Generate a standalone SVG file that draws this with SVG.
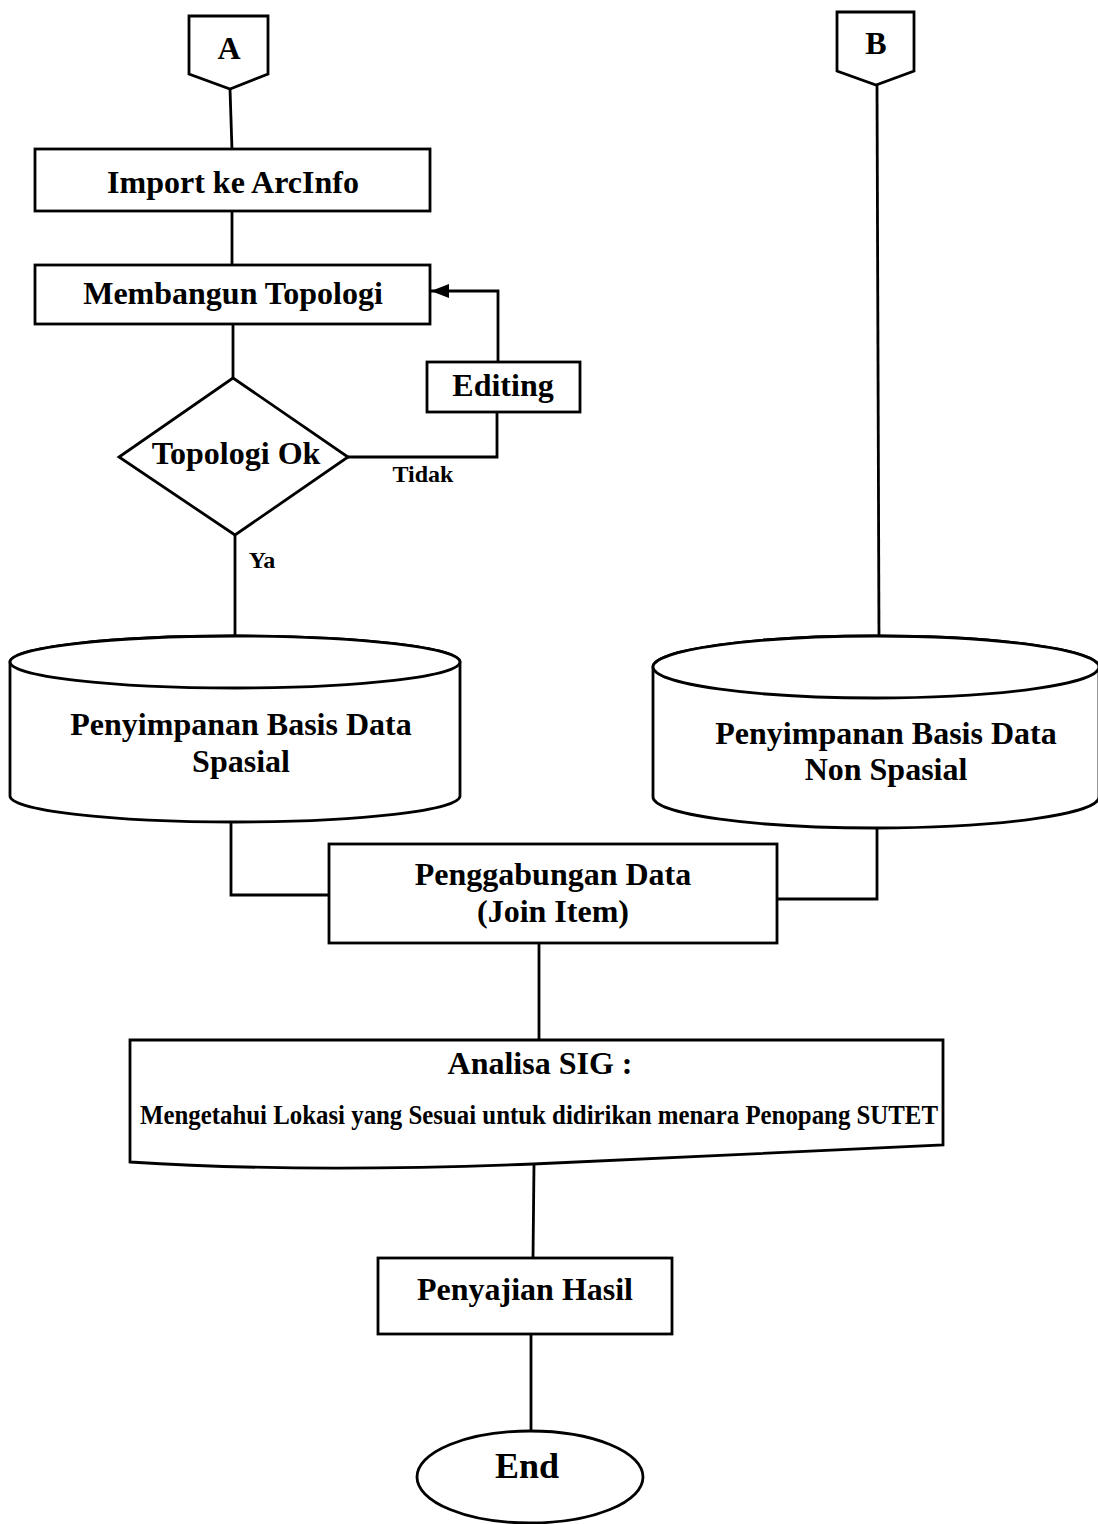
<svg xmlns="http://www.w3.org/2000/svg" width="1098" height="1524" viewBox="0 0 1098 1524">
<style>
.s{fill:#fff;stroke:#000;stroke-width:2.8;stroke-linejoin:miter}
.c{fill:none;stroke:#000;stroke-width:2.8}
.t{font-family:"Liberation Serif","Times New Roman",serif;font-weight:bold;fill:#000;text-anchor:middle}
.l{font-size:32px}
</style>
<defs>
<marker id="ah" viewBox="0 0 18 14" refX="18" refY="7" markerWidth="18" markerHeight="14" markerUnits="userSpaceOnUse" orient="auto">
<path d="M0,0 L18,7 L0,14 Z" fill="#000"/>
</marker>
</defs>
<rect width="1098" height="1524" fill="#fff"/>
<g id="connectors">
<line class="c" x1="230" y1="89" x2="232" y2="150"/>
<line class="c" x1="232" y1="211" x2="232" y2="265"/>
<line class="c" x1="233" y1="324" x2="233" y2="378"/>
<polyline class="c" points="348,457 497,457 497,412"/>
<polyline class="c" points="498,362 498,291 431,291" marker-end="url(#ah)"/>
<line class="c" x1="235" y1="535" x2="235" y2="635"/>
<line class="c" x1="877" y1="85" x2="879" y2="640"/>
<polyline class="c" points="231,822 231,895 329,895"/>
<polyline class="c" points="877,828 877,899 777,899"/>
<line class="c" x1="539" y1="943" x2="539" y2="1040"/>
<line class="c" x1="534" y1="1164" x2="533" y2="1258"/>
<line class="c" x1="531" y1="1334" x2="531" y2="1431"/>
<text class="t" x="423" y="482" font-size="24">Tidak</text>
<text class="t" x="262" y="568" font-size="24">Ya</text>
</g>
<g id="nodeA">
<polygon class="s" points="189,16 268,16 268,74 230,89 189,74"/>
<text class="t" x="229" y="59" font-size="32">A</text>
</g>
<g id="nodeB">
<polygon class="s" points="837,12 914,12 914,71 876,85 837,71"/>
<text class="t" x="876" y="54" font-size="32">B</text>
</g>
<g id="import">
<rect class="s" x="35" y="149" width="395" height="62"/>
<text class="t l" x="233" y="193">Import ke ArcInfo</text>
</g>
<g id="topologi">
<rect class="s" x="35" y="265" width="395" height="59"/>
<text class="t l" x="233" y="304">Membangun Topologi</text>
</g>
<g id="editing">
<rect class="s" x="427" y="362" width="153" height="50"/>
<text class="t l" x="503" y="396">Editing</text>
</g>
<g id="decision">
<polygon class="s" points="233,378 348,457 235,535 119,457"/>
<text class="t l" x="236" y="464">Topologi Ok</text>
</g>
<g id="dbSpasial">
<path class="s" d="M10,662 L10,796 A225,26 0 0 0 460,796 L460,662 A225,26 0 0 0 10,662 Z"/>
<ellipse class="s" cx="235" cy="662" rx="225" ry="26"/>
<text class="t l" x="241" y="735">Penyimpanan Basis Data</text>
<text class="t l" x="241" y="772">Spasial</text>
</g>
<g id="dbNonSpasial">
<path class="s" d="M653,667 L653,797 A223,31 0 0 0 1099,797 L1099,667 A223,31 0 0 0 653,667 Z"/>
<ellipse class="s" cx="876" cy="667" rx="223" ry="31"/>
<text class="t l" x="886" y="744">Penyimpanan Basis Data</text>
<text class="t l" x="886" y="780">Non Spasial</text>
</g>
<g id="join">
<rect class="s" x="329" y="844" width="448" height="99"/>
<text class="t l" x="553" y="885">Penggabungan Data</text>
<text class="t l" x="553" y="922">(Join Item)</text>
</g>
<g id="analisa">
<path class="s" d="M130,1040 H943 V1145 Q766,1154 533,1164 Q300,1173 130,1162 Z"/>
<text class="t l" x="540" y="1074">Analisa SIG :</text>
<text class="t" x="539" y="1124" font-size="28" textLength="798" lengthAdjust="spacingAndGlyphs">Mengetahui Lokasi yang Sesuai untuk didirikan menara Penopang SUTET</text>
</g>
<g id="hasil">
<rect class="s" x="378" y="1258" width="294" height="76"/>
<text class="t l" x="525" y="1300">Penyajian Hasil</text>
</g>
<g id="end">
<ellipse class="s" cx="530" cy="1477" rx="113" ry="46"/>
<text class="t" x="527" y="1478" font-size="36">End</text>
</g>
</svg>
